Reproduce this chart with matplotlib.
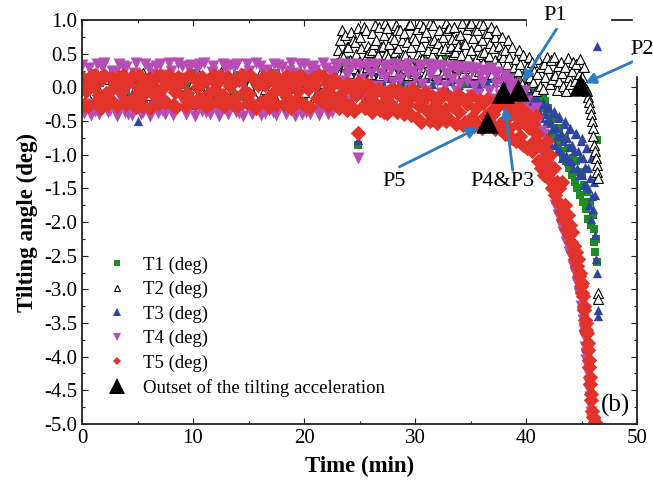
import numpy as np
import matplotlib
matplotlib.use("Agg")
import matplotlib.pyplot as plt
from matplotlib.lines import Line2D
from matplotlib.patches import Rectangle
from matplotlib.ticker import MultipleLocator, FormatStrFormatter

plt.rcParams["font.family"] = ["Liberation Serif", "DejaVu Serif"]
plt.rcParams["axes.unicode_minus"] = False

# ---------------- data ----------------
# Logger readings grouped in rows; each row covers 0.5 min starting at 0 min,
# readings inside a row are evenly spaced in time.
ROW_MIN = 0.5

T5_rows = [  # red diamonds
    [0.15, -0.26, -0.05], [-0.28, 0.04, 0.17], [0.02, 0.18, -0.20], [-0.12, -0.30, 0.12],
    [0.19, -0.08, -0.24], [-0.18, 0.14, -0.01], [0.08, -0.27, 0.16], [-0.06, 0.18, -0.21],
    [-0.25, 0.06, 0.13], [0.17, -0.15, -0.29], [0.00, 0.19, -0.23], [-0.27, -0.09, 0.11],
    [0.14, -0.30, 0.03], [-0.11, 0.16, -0.25], [0.18, -0.02, -0.17], [-0.22, 0.09, 0.19],
    [0.05, -0.26, -0.07], [-0.29, 0.15, 0.07], [0.11, -0.13, -0.27], [-0.08, 0.19, -0.19],
    [0.16, -0.24, 0.01], [-0.16, 0.03, 0.15], [0.09, -0.28, -0.10], [-0.24, 0.13, 0.18],
    [-0.03, -0.21, 0.10], [0.17, -0.11, -0.28], [-0.19, 0.16, 0.02], [0.07, -0.26, -0.14],
    [-0.28, 0.11, 0.18], [0.14, -0.05, -0.23], [-0.10, 0.19, -0.25], [0.12, -0.30, 0.04],
    [-0.22, 0.08, 0.15], [0.03, -0.18, -0.29], [0.19, -0.08, 0.10], [-0.26, 0.14, -0.03],
    [0.09, -0.24, 0.17], [-0.15, 0.01, -0.30], [0.16, -0.20, 0.06], [-0.06, 0.18, -0.23],
    [0.13, -0.27, -0.02], [-0.29, 0.05, 0.14], [0.04, -0.16, 0.19], [-0.21, 0.17, -0.09],
    [0.11, -0.28, 0.00], [-0.13, 0.12, -0.25],
    [0.08, -0.30, -0.10], [-0.22, 0.02, -0.34], [0.05, -0.26, -0.04], [-0.35, -0.12, 0.08],
    [-0.06, 0.04, -0.28], [-0.30, 0.05, -0.18], [0.00, -0.37, -0.09], [-0.24, -0.02, -0.34],
    [-0.07, -0.36, -0.20], [-0.38, -0.12, -0.02], [-0.27, -0.05, -0.37], [-0.04, -0.32, -0.15],
    [-0.39, -0.09, -0.25], [-0.18, -0.41, -0.03],
    [-0.10, -0.46, -0.28], [-0.52, -0.22, -0.08], [-0.34, -0.10, -0.50], [-0.13, -0.44, -0.26],
    [-0.53, -0.18, -0.38], [-0.09, -0.32, -0.50], [-0.46, -0.15, -0.28], [-0.24, -0.54, -0.12],
    [-0.36, -0.14, -0.56], [-0.52, -0.25, -0.16], [-0.13, -0.44, -0.58], [-0.30, -0.56, -0.19],
    [-0.60, -0.23, -0.42], [-0.17, -0.50, -0.35], [-0.40, -0.62, -0.22], [-0.27, -0.55, -0.15],
    [-0.25, -0.70, -0.45, -0.20], [-0.60, -0.30, -0.75, -0.40], [-0.35, -0.80, -0.55, -0.28],
    [-0.72, -0.40, -0.85, -0.50], [-0.38, -0.90, -0.60, -0.45], [-0.95, -0.55, -0.80, -0.42],
    [-0.70, -1.10, -0.85, -1.20], [-0.90, -1.30, -1.05, -0.80], [-1.35, -1.00, -1.20, -1.50],
    [-1.20, -1.60, -1.40, -1.70], [-1.50, -1.85, -1.40, -1.95], [-1.75, -2.10, -1.90, -2.20],
    [-2.05, -2.30, -2.15, -2.45, -2.35, -2.55],
    [-2.45, -2.65, -2.55, -2.80, -2.75, -2.95],
    [-2.90, -3.05, -3.10, -3.25, -3.30, -3.45, -3.50, -3.60],
    [-3.65, -3.80, -3.90, -4.05, -4.15, -4.30, -4.40, -4.55, -4.65, -4.80],
    [-4.90, -4.97],
]

T4_rows = [  # magenta down-triangles
    [0.33, -0.38, 0.05], [-0.25, 0.28, -0.41], [0.18, -0.35, 0.34], [-0.40, 0.12, 0.30],
    [0.36, -0.22, -0.37], [-0.33, 0.25, 0.00], [0.21, -0.42, 0.35], [-0.18, 0.32, -0.36],
    [0.30, -0.39, 0.10], [-0.41, 0.22, 0.36], [0.15, -0.30, -0.40], [-0.36, 0.35, 0.08],
    [0.28, -0.42, 0.20], [-0.27, 0.31, -0.38], [0.34, -0.33, 0.02], [-0.39, 0.18, 0.36],
    [0.25, -0.41, -0.12], [-0.32, 0.36, 0.14], [0.31, -0.24, -0.40], [-0.37, 0.27, 0.33],
    [0.12, -0.42, 0.29], [-0.29, 0.34, -0.35], [0.36, -0.36, 0.07], [-0.40, 0.23, 0.32],
    [0.19, -0.31, -0.42], [-0.34, 0.35, 0.11], [0.27, -0.40, 0.33], [-0.22, 0.30, -0.37],
    [0.35, -0.38, 0.16], [-0.42, 0.20, 0.34], [0.24, -0.34, -0.39], [-0.30, 0.36, 0.04],
    [0.32, -0.41, 0.25], [-0.38, 0.26, -0.33], [0.17, -0.36, 0.35], [-0.41, 0.33, 0.09],
    [0.30, -0.27, -0.40], [-0.35, 0.24, 0.36], [0.22, -0.42, 0.13], [-0.26, 0.35, -0.39],
    [0.34, -0.37, 0.19], [-0.40, 0.28, 0.31], [0.26, -0.33, -0.41], [-0.31, 0.36, 0.06],
    [0.29, -0.39, 0.24], [-0.36, 0.21, 0.35],
    [0.30, -0.15, 0.10], [-0.05, 0.34, 0.18], [0.25, -0.20, 0.32], [0.05, 0.35, -0.10],
    [0.32, 0.12, -0.18], [-0.08, 0.28, 0.34], [0.20, -0.15, 0.33], [0.35, 0.02, 0.22],
    [-0.12, 0.30, 0.15], [0.33, -0.05, 0.26], [0.08, 0.34, -0.15], [0.28, 0.12, 0.32],
    [-0.10, 0.32, 0.20], [0.34, 0.00, 0.25], [0.15, -0.18, 0.33], [0.30, 0.05, -0.12],
    [-0.05, 0.34, 0.18], [0.25, -0.15, 0.30], [0.10, 0.33, -0.08], [0.32, 0.02, 0.20],
    [-0.15, 0.28, 0.12], [0.31, -0.05, 0.24], [0.05, 0.30, -0.18], [0.26, 0.10, 0.30],
    [-0.12, 0.25, 0.02], [0.28, -0.10, 0.18], [0.08, 0.26, -0.20], [0.22, -0.05, 0.28],
    [-0.18, 0.20, 0.05], [0.23, -0.12, 0.10],
    [-0.20, 0.18, -0.05, 0.10], [0.12, -0.25, 0.00, -0.15], [-0.30, 0.05, -0.18, -0.38],
    [-0.10, -0.45, -0.25, -0.05], [-0.50, -0.20, -0.38, -0.62], [-0.35, -0.70, -0.52, -0.30],
    [-0.78, -0.50, -0.90, -0.65], [-0.70, -1.05, -0.85, -1.15], [-1.15, -1.40, -1.30, -1.55],
    [-1.45, -1.75, -1.60, -1.90], [-1.75, -2.05, -1.90, -2.15], [-2.00, -2.30, -2.15, -2.45],
    [-2.25, -2.50, -2.40, -2.65, -2.60, -2.75],
    [-2.65, -2.90, -2.80, -3.05, -3.10, -3.25],
    [-3.15, -3.35, -3.45, -3.60, -3.70, -3.85, -3.95, -4.05],
    [-4.00, -4.15, -4.25, -4.40, -4.50, -4.60, -4.72, -4.82, -4.90, -4.96],
    [-4.95, -4.99],
]

T1_rows = [  # green squares
    [0.10], [-0.20], [0.05], [-0.12], [0.18], [-0.25], [0.02], [0.15], [-0.08], [-0.22],
    [0.12], [0.00], [-0.15], [0.20], [-0.05], [0.08], [-0.28], [0.14], [-0.10], [0.04],
    [0.22], [-0.18], [0.06], [-0.02], [0.16], [-0.24], [0.10], [-0.06], [0.19], [-0.14],
    [0.03], [-0.20], [0.13], [0.07], [-0.11], [0.21], [-0.26], [0.09], [-0.03], [0.17],
    [-0.16], [0.11], [0.01], [-0.09], [0.15], [-0.21],
    [0.15, 0.38], [0.30, 0.05], [0.40, 0.20], [0.10, 0.33], [0.36, 0.22], [0.02, 0.41],
    [0.28, 0.12], [0.39, 0.18], [0.08, 0.35], [0.42, 0.25], [0.16, 0.37], [0.31, 0.04],
    [0.40, 0.22], [0.12, 0.34], [0.38, 0.27], [0.06, 0.41], [0.33, 0.15], [0.37, 0.24],
    [0.10, 0.40], [0.29, 0.18], [0.42, 0.08], [0.20, 0.36], [0.35, 0.13], [0.05, 0.39],
    [0.30, 0.22], [0.38, 0.10], [0.17, 0.33], [0.36, 0.25], [0.12, 0.30], [0.28, 0.20],
    [0.25, 0.12, 0.20, 0.08], [0.18, 0.05, 0.15, 0.22], [0.10, 0.00, 0.14, 0.05],
    [0.06, -0.04, 0.10, 0.02], [0.00, -0.08, 0.04, -0.12], [-0.05, -0.15, -0.02, -0.10],
    [-0.05, -0.15, -0.10, -0.22], [-0.12, -0.30, -0.20, -0.40], [-0.30, -0.55, -0.42, -0.70],
    [-0.45, -0.75, -0.60, -0.85], [-0.60, -0.95, -0.75, -1.05], [-0.75, -1.10, -0.90, -1.20],
    [-0.90, -1.30, -1.05, -1.40], [-1.10, -1.50, -1.25, -1.60], [-1.30, -1.70, -1.45, -1.80],
    [-1.55, -1.95, -1.70, -2.05], [-1.90, -2.30, -2.10, -2.45, -2.25, -2.60],
]

T3_rows = [  # blue up-triangles
    [-0.05], [0.15], [-0.20], [0.08], [-0.12], [0.22], [0.00], [-0.25], [0.12], [-0.08],
    [0.18], [-0.15], [0.05], [-0.02], [0.20], [-0.18], [0.10], [-0.06], [0.14], [-0.22],
    [0.03], [0.17], [-0.10], [0.07], [-0.16], [0.21], [-0.04], [0.11], [-0.24], [0.01],
    [0.16], [-0.13], [0.09], [-0.07], [0.19], [-0.19], [0.06], [-0.01], [0.13], [-0.17],
    [0.04], [0.20], [-0.11], [0.02], [-0.14], [0.10],
    [0.10, 0.25], [0.02, 0.18], [0.28, 0.08], [0.15, -0.02], [0.22, 0.05], [0.30, 0.12],
    [0.00, 0.20], [0.17, 0.27], [0.08, -0.04], [0.24, 0.14], [0.04, 0.29], [0.19, 0.10],
    [0.26, 0.01], [0.12, 0.21], [-0.03, 0.16], [0.28, 0.07], [0.14, 0.23], [0.05, 0.30],
    [0.20, 0.11], [0.25, -0.01], [0.09, 0.18], [0.29, 0.13], [0.03, 0.22], [0.16, 0.06],
    [0.27, 0.19], [0.11, 0.02], [0.21, 0.26], [0.06, 0.15], [0.18, 0.08], [0.12, 0.20],
    [0.10, 0.20, 0.05, 0.15], [0.08, 0.18, 0.02, 0.12], [0.05, -0.02, 0.10, 0.00],
    [-0.05, 0.02, -0.10, -0.02],
    [-0.08, -0.30, -0.15, -0.38, -0.22, -0.05], [-0.12, -0.40, -0.25, -0.50, -0.32, -0.18],
    [-0.18, -0.55, -0.35, -0.62, -0.45, -0.25], [-0.22, -0.65, -0.40, -0.75, -0.52, -0.30],
    [-0.28, -0.75, -0.50, -0.85, -0.62, -0.38], [-0.35, -0.85, -0.60, -0.95, -0.72, -0.45],
    [-0.42, -0.95, -0.68, -1.05, -0.80, -0.55], [-0.50, -1.00, -0.75, -1.10, -0.88, -0.62],
    [-0.60, -1.10, -0.85, -1.20, -0.95, -0.70], [-0.68, -1.20, -0.95, -1.30, -1.05, -0.80],
    [-0.75, -1.30, -1.05, -1.45, -1.18, -0.90],
    [-0.90, -1.50, -1.20, -1.75, -1.35, -1.95, -1.05, -1.62],
    [-1.05, -1.80, -1.40, -2.20, -1.60, -2.55, -1.30, -2.75],
]

T2_rows = [  # black open up-triangles
    [0.05], [-0.15], [0.20], [-0.05], [0.12], [-0.22], [0.08], [0.00], [-0.18], [0.15],
    [-0.08], [0.22], [-0.12], [0.03], [0.18], [-0.20], [0.10], [-0.02], [0.14], [-0.25],
    [0.06], [0.19], [-0.10], [0.01], [-0.16], [0.23], [-0.06], [0.11], [-0.21], [0.16],
    [0.04], [-0.13], [0.20], [-0.03], [0.09], [-0.19], [0.13], [0.02], [-0.11], [0.17],
    [-0.07], [0.21], [-0.14], [0.07], [0.24], [-0.09],
    [0.30, 0.55, 0.20, 0.70, 0.45, 0.85], [0.45, 0.25, 0.78, 0.35, 0.60, 0.15],
    [0.60, 0.22, 0.40, 0.82, 0.30, 0.70], [0.28, 0.68, 0.50, 0.18, 0.88, 0.38],
    [0.75, 0.35, 0.58, 0.25, 0.15, 0.90], [0.42, 0.85, 0.30, 0.62, 0.52, 0.20],
    [0.20, 0.55, 0.80, 0.38, 0.65, 0.92], [0.70, 0.28, 0.48, 0.90, 0.18, 0.60],
    [0.35, 0.62, 0.22, 0.78, 0.95, 0.50], [0.88, 0.45, 0.65, 0.30, 0.22, 0.75],
    [0.25, 0.72, 0.52, 0.92, 0.40, 0.85], [0.58, 0.35, 0.85, 0.20, 0.70, 0.48],
    [0.80, 0.48, 0.28, 0.68, 0.18, 0.92], [0.40, 0.94, 0.60, 0.32, 0.75, 0.22],
    [0.70, 0.25, 0.86, 0.50, 0.40, 0.95], [0.30, 0.62, 0.42, 0.90, 0.75, 0.20],
    [0.82, 0.38, 0.55, 0.22, 0.95, 0.68], [0.48, 0.92, 0.30, 0.70, 0.58, 0.18],
    [0.26, 0.66, 0.85, 0.44, 0.55, 0.20], [0.75, 0.34, 0.58, 0.95, 0.22, 0.85],
    [0.40, 0.88, 0.22, 0.62, 0.72, 0.50], [0.90, 0.52, 0.72, 0.30, 0.18, 0.62],
    [0.35, 0.78, 0.48, 0.96, 0.22, 0.66], [0.64, 0.28, 0.86, 0.45, 0.92, 0.18],
    [0.95, 0.55, 0.32, 0.74, 0.20, 0.85], [0.42, 0.85, 0.62, 0.25, 0.95, 0.50],
    [0.70, 0.36, 0.92, 0.52, 0.22, 0.80], [0.28, 0.80, 0.46, 0.66, 0.90, 0.20],
    [0.58, 0.30, 0.75, 0.40, 0.85, 0.18], [0.35, 0.62, 0.22, 0.50, 0.75, 0.45],
    [0.20, 0.55, 0.35, 0.70], [0.45, 0.15, 0.60, 0.30], [0.10, 0.42, 0.25, 0.55],
    [0.35, 0.05, 0.48, 0.20], [0.00, 0.30, 0.45, 0.15], [0.38, 0.08, 0.25, -0.05],
    [0.20, 0.42, 0.02, 0.30], [-0.02, 0.35, 0.15, 0.45], [0.28, 0.05, 0.40, 0.12],
    [0.45, 0.18, -0.04, 0.32], [0.10, 0.38, 0.22, 0.02], [0.30, -0.05, 0.44, 0.16],
    [0.05, 0.25, 0.38, 0.10], [0.35, 0.00, 0.20, 0.42], [0.15, 0.05, 0.30, -0.02],
    [-0.05, -0.15, -0.22, -0.30, -0.40, -0.50],
    [-0.60, -0.72, -0.85, -0.95, -1.05, -1.15, -1.25],
]

# isolated readings (time in min, angle in deg)
T1_extra_t = [24.9, 46.4]
T1_extra_v = [-0.86, -0.78]
T2_extra_t = [46.5, 46.5, 46.45]
T2_extra_v = [-3.05, -3.15, -1.35]
T3_extra_t = [5.0, 24.9, 46.4, 46.45, 46.45]
T3_extra_v = [-0.50, -0.78, 0.62, -3.30, -3.40]
T4_extra_t = [24.9]
T4_extra_v = [-1.05]
T5_extra_t = [24.9]
T5_extra_v = [-0.68]

# outset of the tilting acceleration: P1, P2, P3, P4, P5
outset_names = ["P1", "P2", "P3", "P4", "P5"]
outset_t = [39.3, 44.9, 37.9, 37.9, 36.5]
outset_v = [-0.04, 0.03, -0.07, -0.07, -0.51]

series_labels = ["T1 (deg)", "T2 (deg)", "T3 (deg)", "T4 (deg)", "T5 (deg)"]


def expand(rows, extra_t, extra_v):
    t, v = [], []
    for i, row in enumerate(rows):
        n = len(row)
        for j, val in enumerate(row):
            t.append(i * ROW_MIN + j * ROW_MIN / n)
            v.append(val)
    return np.array(t + list(extra_t)), np.array(v + list(extra_v))


GREEN = "#1e8c23"
BLUE = "#2f43a0"
MAGENTA = "#b84cb6"
RED = "#e2332a"
ARROW = "#2b7cc0"

fig = plt.figure(figsize=(6.53, 4.86), dpi=100)
ax = fig.add_axes([0.1256, 0.1276, 0.8499, 0.8312])

t1, v1 = expand(T1_rows, T1_extra_t, T1_extra_v)
t2, v2 = expand(T2_rows, T2_extra_t, T2_extra_v)
t3, v3 = expand(T3_rows, T3_extra_t, T3_extra_v)
t4, v4 = expand(T4_rows, T4_extra_t, T4_extra_v)
t5, v5 = expand(T5_rows, T5_extra_t, T5_extra_v)

ax.scatter(t1, v1, marker="s", s=36, color=GREEN, linewidths=0, zorder=2)
ax.scatter(t3, v3, marker="^", s=45, color=BLUE, linewidths=0, zorder=2.1)
ax.scatter(t2, v2, marker="^", s=50, facecolors="white", edgecolors="black",
           linewidths=0.8, zorder=2.2)
ax.scatter(t4, v4, marker="v", s=75, color=MAGENTA, linewidths=0, zorder=2.3)
ax.scatter(t5, v5, marker="D", s=62, color=RED, linewidths=0, zorder=2.4)
ax.scatter(outset_t, outset_v, marker="^", s=260, color="black", linewidths=0, zorder=3)

ax.set_xlim(0, 50)
ax.set_ylim(-5.0, 1.0)
ax.xaxis.set_major_locator(MultipleLocator(10))
ax.xaxis.set_minor_locator(MultipleLocator(5))
ax.yaxis.set_major_locator(MultipleLocator(0.5))
ax.yaxis.set_minor_locator(MultipleLocator(0.25))
ax.yaxis.set_major_formatter(FormatStrFormatter("%.1f"))
ax.tick_params(which="both", direction="in", top=True, right=True, labelsize=15,
               colors="#222222", labelcolor="black", width=0.8)
ax.tick_params(which="major", length=4)
ax.tick_params(which="minor", length=2.5)
for sp in ax.spines.values():
    sp.set_linewidth(1.3)
    sp.set_color("#222222")

ax.set_xlabel("Time (min)", fontsize=16.5, fontweight="bold", labelpad=6)
ax.set_ylabel("Tilting angle (deg)", fontsize=16.5, fontweight="bold", labelpad=4)

# legend
handles = [
    Line2D([], [], ls="none", marker="s", ms=4.5, color=GREEN, mew=0),
    Line2D([], [], ls="none", marker="^", ms=5, mfc="white", mec="black", mew=0.8),
    Line2D([], [], ls="none", marker="^", ms=5.5, color=BLUE, mew=0),
    Line2D([], [], ls="none", marker="v", ms=5.5, color=MAGENTA, mew=0),
    Line2D([], [], ls="none", marker="D", ms=4.5, color=RED, mew=0),
    Line2D([], [], ls="none", marker="^", ms=11, color="black", mew=0),
]
ax.legend(handles, series_labels + ["Outset of the tilting acceleration"],
          loc="upper left", bbox_to_anchor=(0.036, 0.428), frameon=False,
          fontsize=13.5, handlelength=1.0, handletextpad=0.9, labelspacing=0.38,
          borderaxespad=0.0, borderpad=0.3)

# annotations for outset points
arrow_kw = dict(arrowstyle="-|>", color=ARROW, lw=2.0, mutation_scale=16,
                shrinkA=0, shrinkB=0)
ax.annotate("", xy=(39.7, 0.08), xytext=(42.8, 0.88), arrowprops=arrow_kw, zorder=4,
            annotation_clip=False)
ax.annotate("", xy=(45.3, 0.06), xytext=(50.0, 0.41), arrowprops=arrow_kw, zorder=4,
            annotation_clip=False)
ax.annotate("", xy=(35.7, -0.60), xytext=(28.6, -1.18), arrowprops=arrow_kw, zorder=4)
ax.annotate("", xy=(38.1, -0.29), xytext=(38.8, -1.23), arrowprops=arrow_kw, zorder=4)

# white patches where the labels interrupt the frame
fig.add_artist(Rectangle((527 / 653, 1 - 27 / 486), 83 / 653, 20 / 486,
                         transform=fig.transFigure, color="white", zorder=5))
fig.add_artist(Rectangle((633 / 653, 1 - 75 / 486), 20 / 653, 58 / 486,
                         transform=fig.transFigure, color="white", zorder=5))

lab_kw = dict(fontsize=16, ha="center", va="center", zorder=6)
fig.text(555 / 653, 1 - 16 / 486, "P1", **lab_kw)
fig.text(642 / 653, 1 - 49 / 486, "P2", **lab_kw)
fig.text(394 / 653, 1 - 182 / 486, "P5", **lab_kw)
fig.text(502 / 653, 1 - 182 / 486, "P4&P3", **lab_kw)
ax.text(48.1, -4.72, "(b)", fontsize=18, ha="center", va="center")

fig.savefig("out.png", dpi=100)
